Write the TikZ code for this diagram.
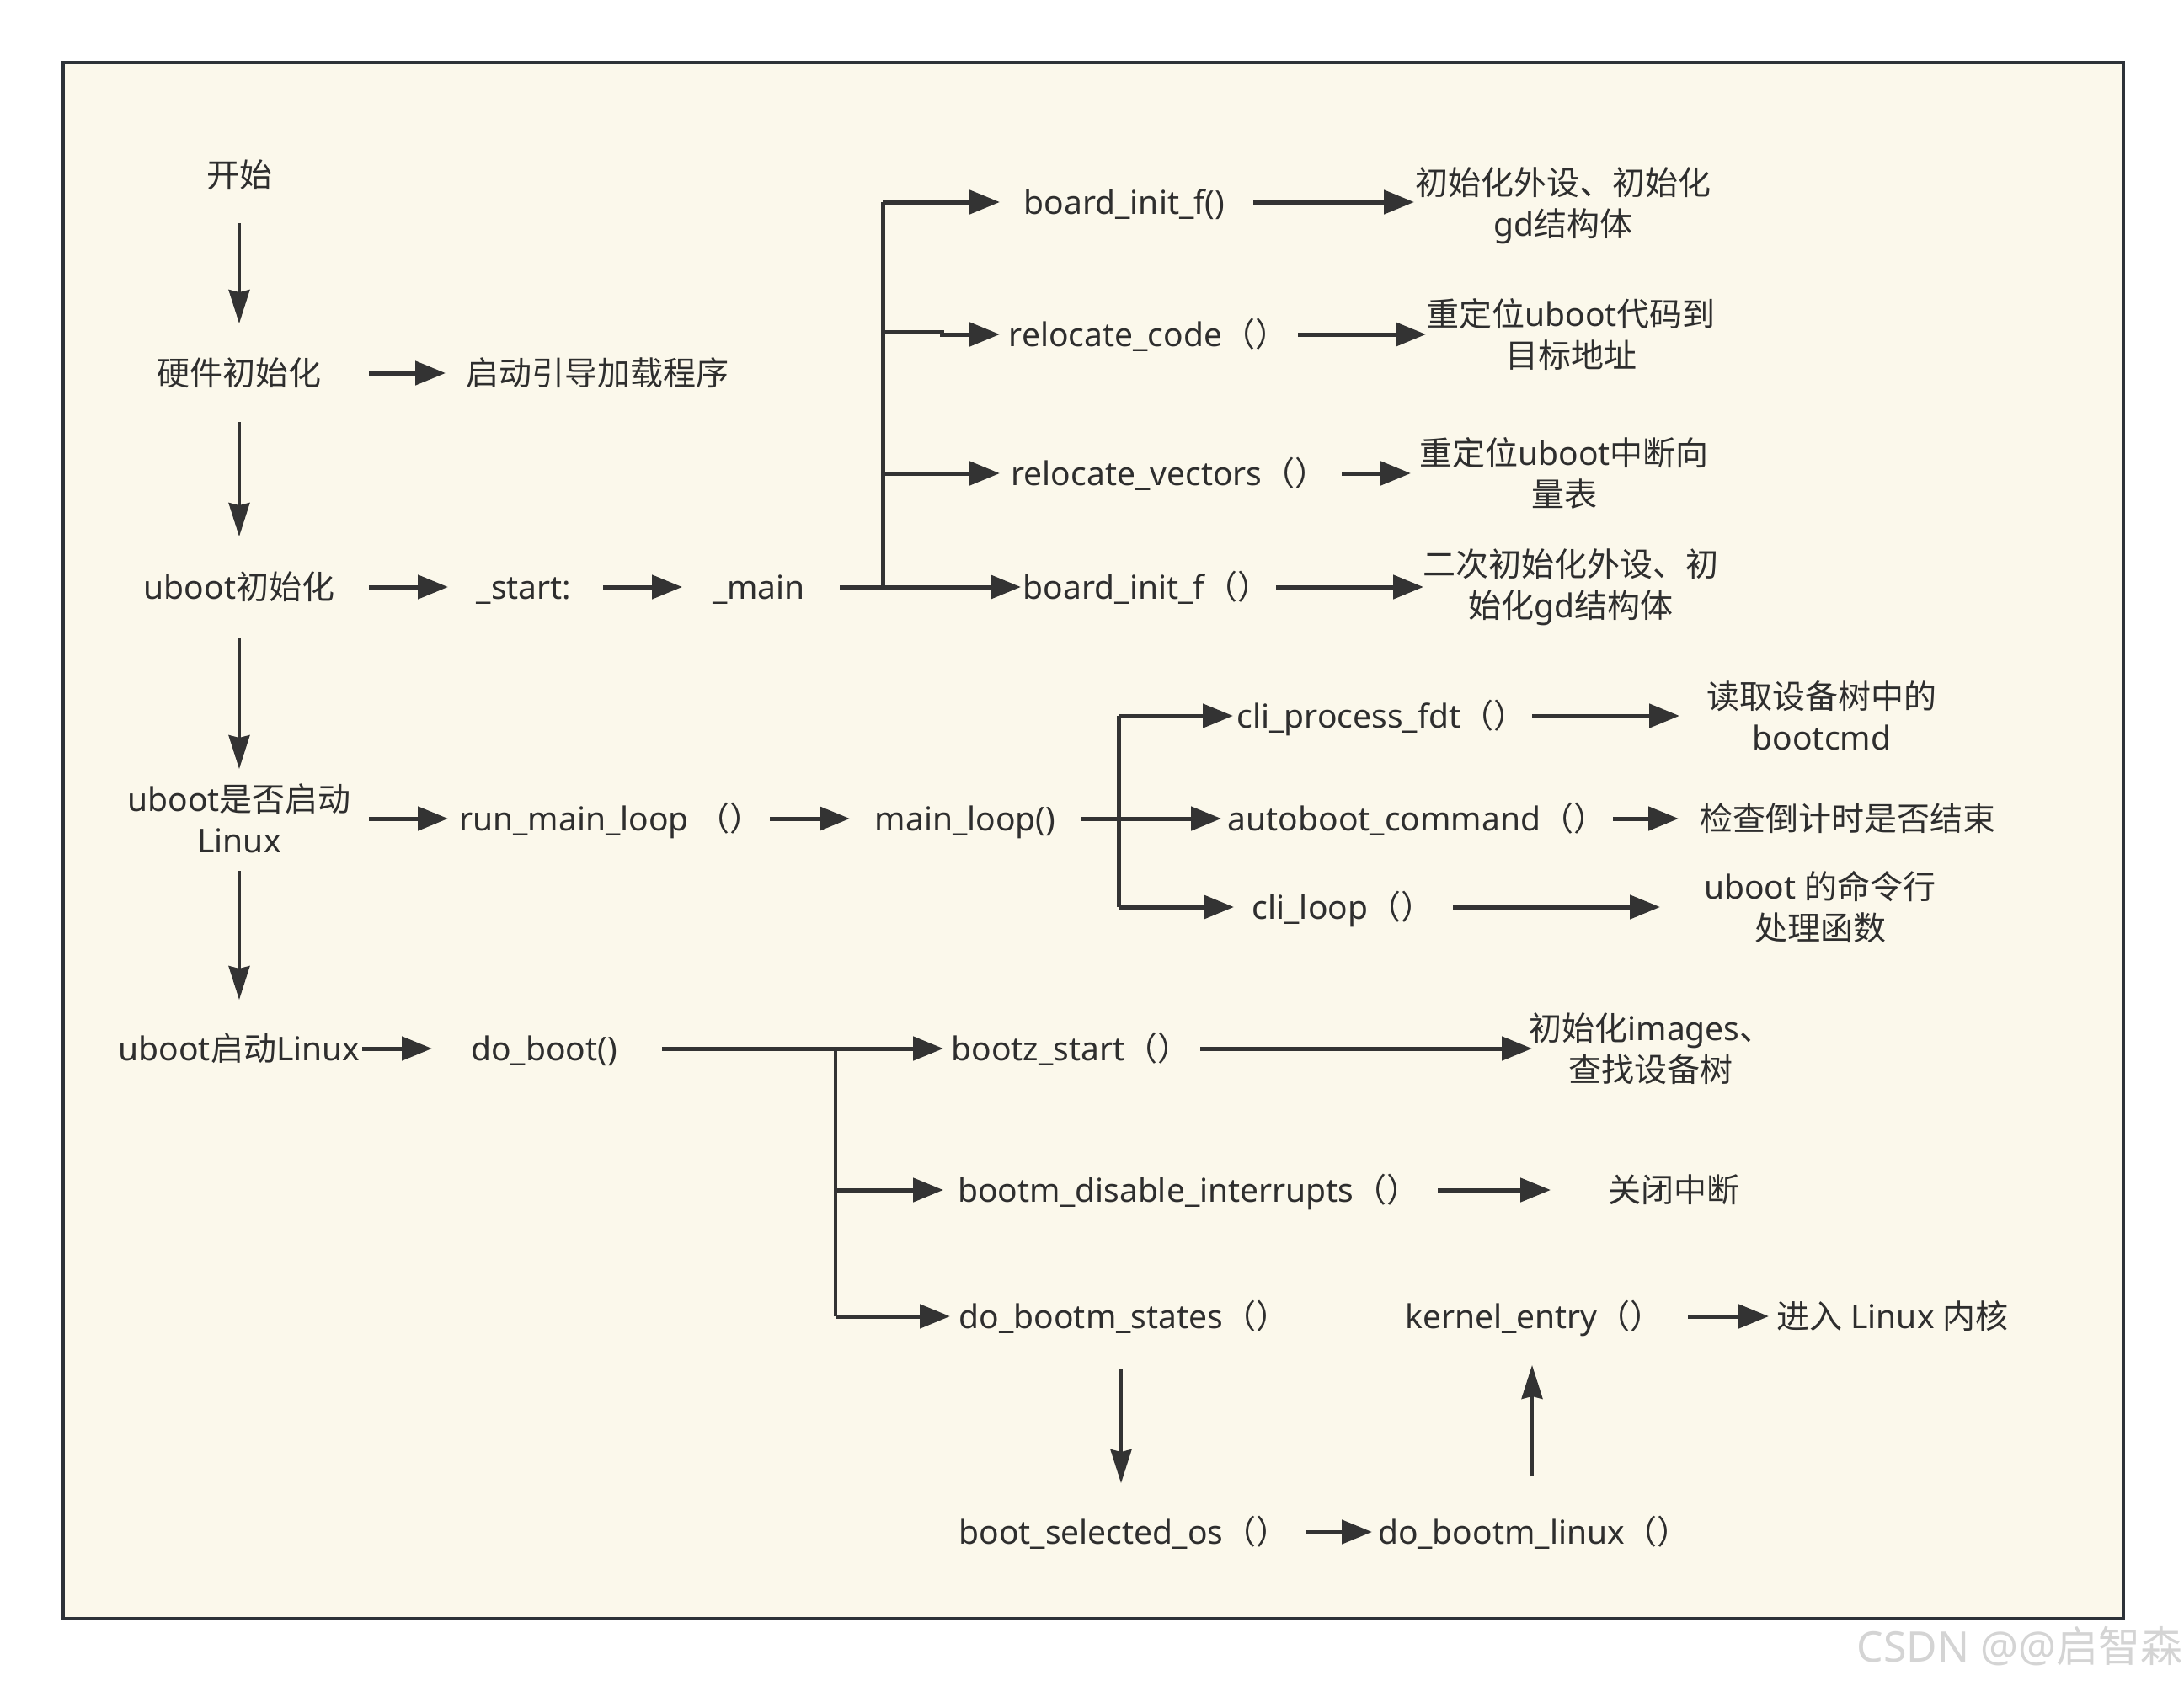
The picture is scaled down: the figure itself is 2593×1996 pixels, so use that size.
\documentclass[tikz,border=0pt]{standalone}
\usepackage{fontspec}
\setmainfont{Noto Sans}
\newfontfamily\zh{Noto Sans CJK SC}
\usetikzlibrary{arrows.meta}
\newcommand\fwp{{\zh （）}\kern-25pt}
\definecolor{cream}{HTML}{FBF8EB}
\definecolor{framec}{HTML}{2D3238}
\definecolor{linec}{HTML}{333333}
\definecolor{textc}{HTML}{2E2E2E}
\definecolor{wmark}{HTML}{D4D4D4}
\tikzset{
  txt/.style={inner sep=0pt, text=textc, font=\fontsize{39}{49}\selectfont, text height=34pt, text depth=5pt},
  mtxt/.style={inner sep=0pt, text=textc, font=\fontsize{39}{49}\selectfont, align=center},
  harrow/.style={draw=linec, line width=5pt, -{Triangle[length=36pt,width=28pt]}},
  hline/.style={draw=linec, line width=5pt},
  bline/.style={draw=linec, line width=4pt},
  varrow/.style={draw=linec, line width=3.5pt, -{Stealth[length=40pt,width=25pt,inset=3pt]}}
}
\begin{document}
\begin{tikzpicture}[x=1pt,y=-1pt]
\useasboundingbox (0,0) rectangle (2593,1996);
\fill[white] (0,0) rectangle (2593,1996);
\draw[framec, line width=4pt, fill=cream] (75,74) rectangle (2521,1922);

% column 1
\node[txt] (kaishi) at (284,208) {{\zh 开始}};
\node[txt] (yingjian) at (284,443) {{\zh 硬件初始化}};
\node[txt] (qdyd) at (709,443) {{\zh 启动引导加载程序}};
\node[txt] (ubinit) at (284,697) {uboot{\zh 初始化}};
\node[txt] (start) at (622,697) {\_start:};
\node[txt] (main) at (901,697) {\_main};
\node[mtxt] (shifou) at (284,972) {uboot{\zh 是否启动}\\Linux};
\node[txt] (ubqd) at (284,1245) {uboot{\zh 启动}Linux};

% _main branch
\node[txt] (bif) at (1335,240) {board\_init\_f()};
\node[txt] (rc) at (1351,397) {relocate\_code\fwp};
\node[txt] (rv) at (1376,562) {relocate\_vectors\fwp};
\node[txt] (bif2) at (1349,697) {board\_init\_f\fwp};
\node[mtxt] (d1) at (1856,244) {{\zh 初始化外设、初始化}\\gd{\zh 结构体}};
\node[mtxt] (d2) at (1865,397) {{\zh 重定位}uboot{\zh 代码到}\\{\zh 目标地址}};
\node[mtxt] (d3) at (1857,562) {{\zh 重定位}uboot{\zh 中断向}\\{\zh 量表}};
\node[mtxt] (d4) at (1865,697) {{\zh 二次初始化外设、初}\\{\zh 始化}gd{\zh 结构体}};

% main loop row
\node[txt] (rml) at (713,972) {run\_main\_loop \fwp};
\node[txt] (ml) at (1146,972) {main\_loop()};
\node[txt] (cpf) at (1628,850) {cli\_process\_fdt\fwp};
\node[txt] (ac) at (1670,972) {autoboot\_command\fwp};
\node[txt] (cl) at (1582,1077) {cli\_loop\fwp};
\node[mtxt] (d5) at (2163,850) {{\zh 读取设备树中的}\\bootcmd};
\node[txt] (d6) at (2194,972) {{\zh 检查倒计时是否结束}};
\node[mtxt] (d7) at (2161,1077) {uboot {\zh 的命令行}\\{\zh 处理函数}};

% boot row
\node[txt] (doboot) at (646,1245) {do\_boot()};
\node[txt] (bs) at (1259,1245) {bootz\_start\fwp};
\node[mtxt] (d8) at (1960,1245) {{\zh 初始化}images{\zh 、}\\{\zh 查找设备树}};
\node[txt] (bdi) at (1399,1413) {bootm\_disable\_interrupts\fwp};
\node[txt] (d9) at (1987,1413) {{\zh 关闭中断}};
\node[txt] (dbs) at (1322,1563) {do\_bootm\_states\fwp};
\node[txt] (ke) at (1809,1563) {kernel\_entry\fwp};
\node[txt] (d10) at (2247,1563) {{\zh 进入} Linux {\zh 内核}};
\node[txt] (bso) at (1322,1819) {boot\_selected\_os\fwp};
\node[txt] (dbl) at (1809,1819) {do\_bootm\_linux\fwp};

% watermark
\node[inner sep=0pt, text=wmark, font=\fontsize{50}{60}\selectfont] (wm) at (2398,1955) {CSDN @@{\zh 启智森}};

% vertical arrows column 1
\draw[varrow, shorten <=57pt, shorten >=59pt] (kaishi.center) -- (yingjian.center);
\draw[varrow, shorten <=58pt, shorten >=60pt] (yingjian.center) -- (ubinit.center);
\draw[varrow, shorten <=60pt, shorten >=59pt] (ubinit.center) -- (shifou.center);
\draw[varrow, shorten <=62pt, shorten >=58pt] (shifou.center) -- (ubqd.center);

% row 443
\draw[harrow, shorten <=154pt, shorten >=180pt] (yingjian.center) -- (qdyd.center);

% row 697
\draw[harrow, shorten <=154pt, shorten >=90pt] (ubinit.center) -- (start.center);
\draw[harrow, shorten <=94pt, shorten >=91pt] (start.center) -- (main.center);
\draw[harrow, shorten <=96pt, shorten >=137pt] (main.center) -- (bif2.center);
\coordinate (b1t) at (1048,240);
\coordinate (b1b) at (1048,697);
\coordinate (b1c) at (1048,394);
\coordinate (jog) at (1118,394);
\coordinate (b1d) at (1048,562);
\draw[hline] (b1t) -- (b1b);
\draw[harrow, shorten >=148pt] (b1t) -- (bif.center);
\draw[harrow, shorten >=164pt] (b1c) -- (jog) |- (rc.center);
\draw[harrow, shorten >=189pt] (b1d) -- (rv.center);
\draw[harrow, shorten <=153pt, shorten >=177pt] (bif.center) -- (bif.center -| d1.center);
\draw[harrow, shorten <=190pt, shorten >=172pt] (rc.center) -- (d2.center);
\draw[harrow, shorten <=217pt, shorten >=182pt] (rv.center) -- (d3.center);
\draw[harrow, shorten <=166pt, shorten >=175pt] (bif2.center) -- (d4.center);

% row 972
\draw[harrow, shorten <=154pt, shorten >=181pt] (shifou.center) -- (rml.center);
\draw[harrow, shorten <=201pt, shorten >=137pt] (rml.center) -- (ml.center);
\draw[harrow, shorten <=137pt, shorten >=220pt] (ml.center) -- (ac.center);
\coordinate (b2t) at (1328,850);
\coordinate (b2b) at (1328,1077);
\draw[hline] (b2t) -- (b2b);
\draw[harrow, shorten >=164pt] (b2t) -- (cpf.center);
\draw[harrow, shorten >=117pt] (b2b) -- (cl.center);
\draw[harrow, shorten <=191pt, shorten >=169pt] (cpf.center) -- (d5.center);
\draw[harrow, shorten <=245pt, shorten >=201pt] (ac.center) -- (d6.center);
\draw[harrow, shorten <=143pt, shorten >=190pt] (cl.center) -- (d7.center);

% row 1245
\draw[harrow, shorten <=146pt, shorten >=133pt] (ubqd.center) -- (doboot.center);
\draw[harrow, shorten <=140pt, shorten >=139pt] (doboot.center) -- (bs.center);
\coordinate (b3t) at (992,1245);
\coordinate (b3m) at (992,1413);
\coordinate (b3b) at (992,1563);
\draw[bline] (b3t) -- (b3b);
\draw[harrow, shorten >=279pt] (b3m) -- (bdi.center);
\draw[harrow, shorten >=194pt] (b3b) -- (dbs.center);
\draw[harrow, shorten <=166pt, shorten >=141pt] (bs.center) -- (d8.center);
\draw[harrow, shorten <=308pt, shorten >=146pt] (bdi.center) -- (d9.center);
\draw[harrow, shorten <=195pt, shorten >=147pt] (ke.center) -- (d10.center);
\draw[harrow, shorten <=228pt, shorten >=180pt] (bso.center) -- (dbl.center);
\draw[varrow, shorten <=63pt, shorten >=58pt] ([xshift=9pt]dbs.center) -- ([xshift=9pt]bso.center);
\draw[varrow, shorten <=66pt, shorten >=58pt] ([xshift=10pt]dbl.center) -- ([xshift=10pt]ke.center);
\end{tikzpicture}
\end{document}
